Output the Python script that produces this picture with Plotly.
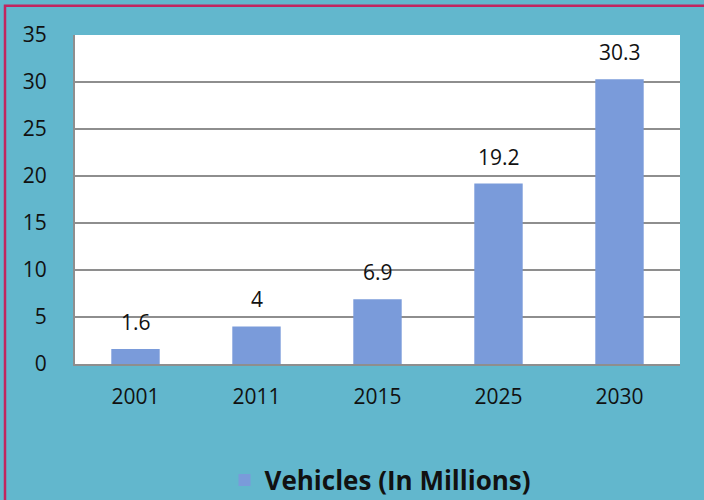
import plotly.graph_objects as go

years = ["2001", "2011", "2015", "2025", "2030"]
vehicles = [1.6, 4, 6.9, 19.2, 30.3]
labels = ["1.6", "4", "6.9", "19.2", "30.3"]
series_name = "Vehicles (In Millions)"
y_ticks = [0, 5, 10, 15, 20, 25, 30, 35]

BG = "#62B7CD"
BAR = "#7A9BDA"
GRID = "#8E8E8E"
FONT = "Open Sans, Lato, Liberation Sans, sans-serif"

fig = go.Figure()
fig.add_trace(go.Bar(x=years, y=vehicles, name=series_name, marker=dict(color=BAR, line=dict(width=0)),
                     showlegend=True))

# annotations on a category axis: use category index so numeric-looking labels are not read as numbers
for i, (yv, t) in enumerate(zip(vehicles, labels)):
    fig.add_annotation(x=i, y=yv, text=t, showarrow=False, yshift=27, yanchor="middle",
                       font=dict(size=21, color="#111111", family=FONT))

fig.update_layout(
    width=704, height=500,
    paper_bgcolor=BG, plot_bgcolor="white",
    margin=dict(l=75, r=24, t=35, b=136, autoexpand=False),
    bargap=0.6,
    font=dict(family=FONT, size=21, color="#111111"),
    xaxis=dict(type="category", showgrid=False, showline=True, linecolor=GRID, linewidth=2, ticks="",
               tickfont=dict(size=21), ticklabelstandoff=13),
    yaxis=dict(range=[0, 35], tickvals=y_ticks, showgrid=True, gridcolor=GRID, gridwidth=1.5,
               showline=True, linecolor=GRID, linewidth=2, zeroline=False, ticks="",
               tickfont=dict(size=21), ticklabelstandoff=22),
    legend=dict(orientation="h", x=0.505, y=-0.353, xanchor="center", yanchor="middle",
                font=dict(size=26, color="#111111", family=FONT, weight="bold"),
                bgcolor="rgba(0,0,0,0)"),
    shapes=[dict(type="rect", xref="paper", yref="paper", x0=-0.1157, x1=1.06, y0=-0.45, y1=1.089,
                 line=dict(color="#C2255F", width=2.5), fillcolor="rgba(0,0,0,0)", layer="above")],
)

fig.write_html("out.html", post_script="document.body.style.margin='0';",
               config={"displayModeBar": False})
